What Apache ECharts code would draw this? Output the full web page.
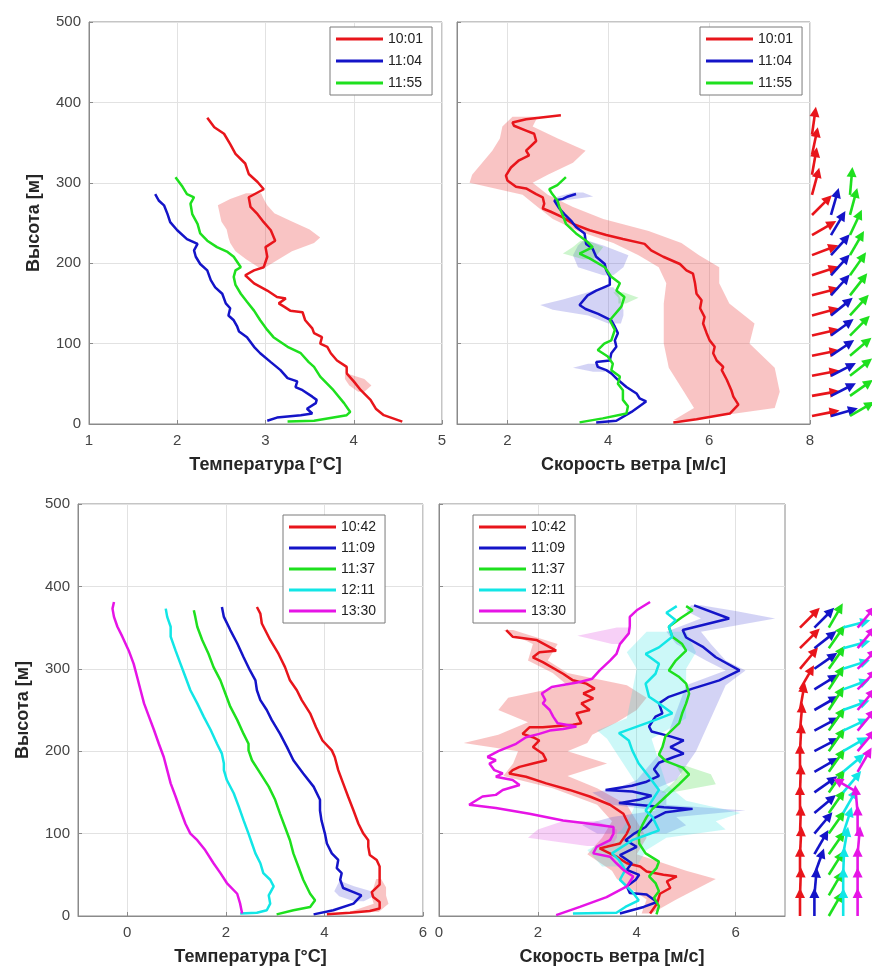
<!DOCTYPE html>
<html>
<head>
<meta charset="utf-8">
<script src="https://cdn.jsdelivr.net/npm/echarts@6/dist/echarts.min.js"></script>
<style>
  html, body { margin: 0; padding: 0; background: #ffffff; }
  #chart { width: 872px; height: 978px; }
</style>
</head>
<body>
<div id="chart"></div>
<script>
// ---------- Upper pair of panels: soundings 10:01, 11:04, 11:55 ----------
const timesA = ['10:01', '11:04', '11:55'];

// temperature profiles, [°C, height m]
const tA_1001 = [[4.55,3],[4.34,11],[4.25,19],[4.19,30],[4.08,42],[4.00,53],[3.92,63],[3.92,71],[3.81,79],[3.74,88],[3.70,96],[3.62,100],[3.64,108],[3.55,113],[3.53,119],[3.45,129],[3.42,139],[3.28,141],[3.21,146],[3.15,150],[3.23,156],[3.13,158],[3.02,166],[2.87,175],[2.77,185],[2.87,191],[2.98,195],[3.02,208],[3.00,220],[3.11,228],[3.06,241],[2.98,251],[2.91,261],[2.83,270],[2.81,282],[2.98,292],[2.91,301],[2.81,311],[2.77,324],[2.66,336],[2.60,348],[2.53,361],[2.42,369],[2.34,381]];
const tA_1104 = [[3.02,4],[3.13,8],[3.40,11],[3.53,13],[3.47,19],[3.57,26],[3.58,30],[3.53,34],[3.42,42],[3.34,46],[3.36,53],[3.25,57],[3.17,67],[3.06,77],[2.94,88],[2.87,96],[2.79,108],[2.70,115],[2.68,121],[2.64,129],[2.58,135],[2.60,144],[2.55,150],[2.51,162],[2.43,170],[2.38,179],[2.34,191],[2.26,199],[2.21,208],[2.19,216],[2.23,224],[2.11,230],[2.00,241],[1.92,251],[1.89,261],[1.85,272],[1.79,278],[1.75,286]];
const tA_1155 = [[3.25,3],[3.55,4],[3.92,11],[3.96,15],[3.89,26],[3.77,42],[3.62,59],[3.55,71],[3.49,77],[3.40,88],[3.25,96],[3.09,108],[3.02,117],[2.94,129],[2.87,141],[2.79,152],[2.72,162],[2.66,173],[2.64,183],[2.66,191],[2.72,195],[2.64,208],[2.57,214],[2.45,220],[2.34,228],[2.26,237],[2.23,249],[2.17,261],[2.15,274],[2.19,282],[2.11,286],[2.06,295],[1.98,307]];

// temperature spread, [height m, low °C, high °C]
const tA_1001_spread = [[195,2.92,3.00],[205,2.78,3.15],[215,2.66,3.30],[225,2.60,3.55],[232,2.58,3.62],[242,2.56,3.50],[252,2.50,3.30],[262,2.48,3.10],[272,2.46,3.02],[280,2.60,2.98],[287,2.78,2.95]];
const tA_1001_spreadLow = [[40,4.05,4.12],[48,3.95,4.20],[56,3.90,4.12],[62,3.90,3.95]];

// wind speed profiles, [m/s, height m]
const wA_1001 = [[5.29,2],[5.75,6],[6.41,13],[6.58,24],[6.48,34],[6.44,42],[6.35,55],[6.25,67],[6.28,71],[6.15,79],[6.08,88],[6.11,96],[6.01,104],[5.95,113],[5.88,125],[5.91,133],[5.82,144],[5.85,154],[5.75,162],[5.72,175],[5.68,187],[5.55,191],[5.42,199],[5.09,208],[4.85,216],[4.72,224],[4.29,230],[3.96,235],[3.63,241],[3.30,249],[3.10,257],[2.86,264],[2.70,268],[2.73,274],[2.70,282],[2.57,286],[2.37,293],[2.17,295],[2.00,303],[1.97,309],[2.07,319],[2.23,328],[2.43,334],[2.37,340],[2.57,352],[2.53,361],[2.37,365],[2.13,371],[2.10,375],[2.37,379],[3.06,384]];
const wA_1104 = [[3.76,2],[4.16,4],[4.46,15],[4.75,28],[4.62,32],[4.56,38],[4.36,46],[4.19,55],[4.06,63],[3.96,67],[3.79,71],[3.76,77],[4.03,79],[4.06,88],[4.16,96],[4.13,104],[4.19,113],[4.13,121],[4.06,129],[3.80,137],[3.55,143],[3.43,148],[3.59,160],[3.76,166],[4.03,173],[4.03,183],[3.96,191],[3.93,199],[3.76,208],[3.69,218],[3.56,224],[3.53,237],[3.36,245],[3.26,253],[3.13,261],[3.03,268],[2.93,278],[3.10,280],[3.20,283],[3.36,286]];
const wA_1155 = [[3.43,2],[3.89,7],[4.36,13],[4.39,22],[4.29,30],[4.29,42],[4.19,50],[4.23,59],[4.06,67],[4.09,75],[3.99,84],[3.79,92],[3.92,100],[4.06,104],[4.13,117],[4.03,129],[4.26,146],[4.32,158],[4.16,166],[4.23,175],[4.06,183],[3.93,195],[3.63,206],[3.43,212],[3.69,220],[3.56,228],[3.36,237],[3.16,249],[3.10,259],[3.03,270],[2.99,278],[2.89,286],[2.83,292],[2.99,297],[3.16,307]];

// wind speed spread, [height m, low m/s, high m/s]
const wA_1001_spread = [[5,5.30,5.60],[20,5.70,7.30],[40,5.50,7.40],[70,5.20,7.30],[100,5.10,6.80],[125,5.10,6.90],[150,5.10,6.40],[175,5.15,6.20],[195,5.00,6.20],[210,4.60,5.80],[225,4.10,5.45],[240,3.40,4.80],[255,2.90,3.90],[270,2.60,3.30],[285,2.30,2.80],[300,1.25,2.50],[310,1.30,2.80],[325,1.50,3.30],[340,1.70,3.55],[355,1.85,3.00],[370,1.90,2.50],[382,2.10,2.60]];
const wA_1104_spread1 = [[125,4.00,4.25],[135,3.60,4.30],[142,2.90,4.30],[148,2.65,4.25],[155,3.10,4.25],[162,3.50,4.20],[170,3.90,4.10]];
const wA_1104_spread2 = [[185,3.90,4.10],[195,3.40,4.30],[210,3.30,4.40],[222,3.40,3.90],[228,3.50,3.60]];
const wA_1104_spread3 = [[65,3.70,3.95],[70,3.30,3.85],[75,3.60,3.80]];
const wA_1104_spread4 = [[278,2.90,3.10],[283,3.00,3.70],[288,3.30,3.50]];
const wA_1155_spread1 = [[205,3.50,3.70],[212,3.10,3.80],[220,3.30,3.90],[228,3.45,3.60]];
const wA_1155_spread2 = [[150,4.20,4.35],[157,4.20,4.60],[164,4.10,4.30]];

// wind direction arrows (bearing the arrow points to, degrees clockwise from up)
const arrowA_h = [10,35,60,85,110,135,160,185,210,235,260,285,310,335,360];
const arrowA_1001 = [79,80,79,79,77,75,75,72,69,60,45,15,10,12,8];
const arrowA_1104 = [74,63,63,56,54,51,42,42,42,31,16];
const arrowA_1155 = [60,55,52,50,45,42,38,35,30,25,15,5];

// ---------- Lower pair of panels: soundings 10:42 ... 13:30 ----------
const timesB = ['10:42', '11:09', '11:37', '12:11', '13:30'];

const tB_1042 = [[4.05,2],[4.52,4],[4.92,6],[5.12,9],[5.12,17],[4.99,23],[4.96,29],[5.12,38],[5.12,48],[5.12,60],[5.06,68],[4.92,74],[4.89,84],[4.89,92],[4.79,100],[4.69,112],[4.59,128],[4.48,145],[4.38,161],[4.28,177],[4.21,193],[4.15,201],[3.96,213],[3.83,229],[3.71,246],[3.54,262],[3.44,274],[3.30,286],[3.20,302],[3.07,318],[2.90,335],[2.73,355],[2.70,367],[2.63,375]];
const tB_1109 = [[3.78,2],[4.18,7],[4.59,15],[4.75,25],[4.59,29],[4.38,34],[4.32,44],[4.35,52],[4.25,58],[4.28,68],[4.15,76],[4.05,88],[4.01,100],[3.94,116],[3.91,128],[3.91,141],[3.78,157],[3.57,173],[3.37,189],[3.24,205],[3.10,221],[2.93,238],[2.83,250],[2.70,262],[2.63,274],[2.60,286],[2.49,298],[2.36,314],[2.23,331],[2.09,347],[1.96,363],[1.92,375]];
const tB_1137 = [[3.03,2],[3.37,7],[3.71,11],[3.81,19],[3.71,27],[3.57,44],[3.47,60],[3.37,76],[3.30,92],[3.20,108],[3.10,124],[3.00,141],[2.87,157],[2.70,173],[2.53,189],[2.46,201],[2.46,209],[2.36,221],[2.23,238],[2.09,254],[1.99,270],[1.89,286],[1.75,302],[1.65,318],[1.52,335],[1.42,351],[1.38,363],[1.35,371]];
const tB_1211 = [[2.29,3],[2.63,4],[2.83,7],[2.90,15],[2.87,25],[2.97,36],[2.90,44],[2.76,52],[2.70,64],[2.60,76],[2.53,88],[2.46,100],[2.36,116],[2.26,133],[2.16,149],[2.02,165],[1.96,177],[1.96,185],[1.92,197],[1.82,209],[1.69,226],[1.55,242],[1.42,258],[1.28,274],[1.18,290],[1.08,306],[0.98,322],[0.88,339],[0.88,351],[0.81,363],[0.78,373]];
const tB_1330 = [[2.33,3],[2.29,15],[2.23,27],[2.02,40],[1.89,52],[1.75,64],[1.58,80],[1.42,92],[1.28,100],[1.18,112],[1.08,128],[0.98,145],[0.88,161],[0.81,177],[0.74,193],[0.64,209],[0.54,226],[0.44,242],[0.34,258],[0.27,274],[0.20,290],[0.13,306],[0.03,322],[-0.10,339],[-0.20,351],[-0.27,363],[-0.30,373],[-0.27,381]];

const tB_1042_spread = [[5,4.50,5.10],[15,5.00,5.30],[25,4.95,5.25],[35,5.00,5.25],[45,5.05,5.15]];
const tB_1109_spread = [[18,4.60,4.80],[24,4.30,5.00],[30,4.20,4.95],[36,4.25,4.60],[42,4.30,4.35]];

const wB_1042 = [[4.27,3],[4.41,15],[4.47,27],[4.68,34],[4.61,42],[4.81,48],[4.54,50],[4.20,54],[4.07,60],[3.80,64],[3.59,72],[3.25,82],[3.39,84],[3.66,88],[3.80,100],[3.86,108],[3.73,124],[3.46,135],[3.05,145],[2.64,153],[2.17,161],[1.76,169],[1.42,173],[1.49,177],[1.63,181],[1.90,185],[2.17,189],[2.10,197],[1.90,205],[2.03,213],[1.90,217],[1.69,221],[1.83,229],[2.10,229],[2.71,232],[2.88,234],[2.78,246],[3.05,250],[2.88,258],[3.12,264],[2.92,270],[3.15,276],[2.98,282],[2.71,286],[2.51,294],[2.10,308],[1.90,314],[2.03,320],[2.37,322],[1.97,335],[1.49,339],[1.36,347]];
const wB_1109 = [[3.66,3],[4.14,11],[4.41,17],[4.20,26],[3.86,28],[3.80,36],[3.98,44],[4.05,50],[3.80,56],[3.90,64],[3.66,74],[4.00,84],[3.77,92],[3.95,100],[4.18,108],[4.32,118],[4.59,126],[5.13,130],[4.55,132],[3.64,137],[4.04,141],[4.30,146],[3.91,151],[3.37,153],[3.90,158],[4.20,163],[4.45,170],[4.35,178],[4.45,186],[4.75,193],[4.95,197],[4.68,205],[4.95,213],[4.68,218],[4.30,224],[4.25,230],[4.38,242],[4.52,246],[4.45,258],[4.65,266],[5.13,276],[5.67,286],[6.08,298],[5.60,314],[5.33,327],[5.00,338],[4.93,347],[5.87,361],[5.16,377]];
const wB_1137 = [[4.40,2],[4.45,12],[4.35,22],[4.45,30],[4.38,40],[4.25,48],[4.40,58],[4.45,66],[4.18,76],[4.05,88],[4.04,100],[4.11,110],[4.20,120],[4.32,130],[4.59,145],[4.86,160],[5.06,172],[4.93,180],[4.59,188],[4.45,196],[4.52,205],[4.58,218],[4.86,234],[4.92,246],[5.00,258],[5.06,270],[5.00,282],[4.86,290],[4.65,298],[4.79,310],[5.00,322],[4.92,330],[4.72,339],[4.65,351],[4.90,362],[5.13,371],[5.00,376]];
const wB_1211 = [[2.71,3],[3.59,4],[3.77,11],[4.04,19],[3.90,30],[3.66,44],[3.77,56],[3.64,68],[3.50,76],[3.91,92],[4.18,98],[4.45,104],[4.32,120],[4.18,128],[4.32,141],[4.45,153],[4.25,169],[4.04,185],[3.91,201],[3.84,213],[3.64,222],[4.38,238],[4.72,246],[4.45,258],[4.25,266],[4.18,282],[4.38,294],[4.45,306],[4.18,318],[4.45,326],[4.72,339],[4.65,351],[4.79,359],[4.60,368],[4.81,376]];
const wB_1330 = [[2.37,1],[2.85,11],[3.39,23],[3.80,36],[3.93,48],[3.73,56],[3.59,64],[3.46,72],[3.12,76],[3.19,84],[3.46,92],[3.53,100],[3.53,108],[3.05,112],[2.51,116],[1.83,124],[1.15,131],[0.61,135],[0.88,145],[1.15,147],[1.29,153],[1.63,159],[1.49,165],[1.15,169],[1.29,173],[1.12,177],[1.02,185],[1.15,189],[0.98,193],[1.20,200],[1.56,209],[1.76,217],[2.03,221],[2.24,225],[2.51,227],[2.78,230],[2.40,234],[2.31,242],[2.24,250],[2.10,258],[2.15,262],[2.08,270],[2.28,278],[2.85,284],[3.10,288],[3.25,298],[3.46,310],[3.59,318],[3.66,330],[3.84,343],[3.86,352],[3.86,363],[4.00,371],[4.27,381]];

const wB_1042_spread = [[3,4.10,4.30],[20,4.20,4.80],[45,3.60,5.60],[55,3.50,5.00],[75,3.00,4.00],[95,3.30,4.20],[115,3.50,4.00],[135,3.20,3.80],[155,2.30,3.20],[170,1.30,2.60],[185,1.50,3.40],[200,1.60,2.60],[210,0.50,3.00],[220,1.20,3.10],[235,1.80,3.60],[250,1.20,4.00],[265,1.40,4.20],[280,2.60,3.80],[295,2.30,2.60],[310,1.80,2.20],[330,1.90,2.40],[347,1.30,1.50]];
const wB_1109_spread = [[100,3.20,4.60],[110,2.90,5.00],[120,3.50,4.80],[128,4.40,6.20],[135,3.50,4.60],[150,3.10,4.60],[155,3.60,4.40],[165,4.00,4.80],[200,4.50,5.20],[280,5.00,5.80],[298,5.80,6.20],[310,5.40,5.80],[330,4.80,5.50],[345,4.60,5.30],[361,5.30,6.80],[370,5.00,6.00],[377,5.10,5.30]];
const wB_1137_spread = [[150,4.50,4.70],[160,4.70,5.60],[172,4.90,5.50],[182,4.80,5.00]];
const wB_1211_spread = [[60,3.30,4.00],[80,3.00,4.20],[95,3.50,4.60],[105,3.70,5.80],[115,3.80,5.60],[125,3.90,6.10],[140,4.00,5.00],[160,4.00,4.60],[215,3.40,4.30],[225,3.20,4.60],[240,3.80,5.00],[300,4.00,5.00],[320,3.80,5.20],[345,4.20,5.00]];
const wB_1330_spread1 = [[85,3.00,3.50],[95,1.80,3.60],[105,2.00,3.60],[115,2.50,3.20]];
const wB_1330_spread2 = [[330,3.50,3.70],[340,2.80,3.80],[350,3.60,3.90]];

const arrowB_h = [0,25,50,75,100,125,150,175,200,225,250,275,300,325,350];
const arrowB_1042 = [0,2,0,3,2,0,2,0,3,5,10,30,40,45,45];
const arrowB_1109 = [0,5,20,30,40,50,55,60,62,62,60,58,55,52,45];
const arrowB_1137 = [30,30,32,35,35,35,35,35,35,35,33,33,35,35,30];
const arrowB_1211 = [0,0,2,10,18,30,40,50,60,65,70,70,72,75,75];
const arrowB_1330 = [0,0,0,5,0,-5,-60,30,40,40,40,45,45,40,40];

// ---------- styling ----------
const FONT = '"Liberation Sans", Arial, Helvetica, sans-serif';
const COL = { r: '#e8151b', b: '#1414c8', g: '#1ee01e', c: '#12e6e6', m: '#e614e6' };
const FILL = {
  r: 'rgba(236,72,72,0.32)', b: 'rgba(70,70,215,0.24)', g: 'rgba(60,215,60,0.26)',
  c: 'rgba(40,225,225,0.24)', m: 'rgba(220,60,220,0.24)'
};
const AXIS_GREY = '#8a8a8a';

function profile(name, data, color, gi) {
  return {
    type: 'line', name, data, xAxisIndex: gi, yAxisIndex: gi,
    symbol: 'none', showSymbol: false, z: 3,
    lineStyle: { width: 2.5, color }, itemStyle: { color }
  };
}

// shaded spread: polygon up the low edge and back down the high edge
function spread(rows, fill, gi) {
  const pts = rows.map(r => [r[1], r[0]]).concat(rows.slice().reverse().map(r => [r[2], r[0]]));
  return {
    type: 'custom', name: 'spread', xAxisIndex: gi, yAxisIndex: gi,
    data: pts, encode: { x: 0, y: 1 }, z: 1, silent: true,
    renderItem(params, api) {
      if (params.dataIndex !== 0) return null;
      return { type: 'polygon', shape: { points: pts.map(p => api.coord(p)) }, style: { fill } };
    }
  };
}

// one column of wind-direction arrows
function arrows(col, heights, dirs, color, gi) {
  const data = dirs.map((d, i) => [col, heights[i], d]);
  const L = 28, HL = 10, HW = 5;
  return {
    type: 'custom', name: 'arrows', xAxisIndex: gi, yAxisIndex: gi,
    data, encode: { x: 0, y: 1 }, z: 3, silent: true, clip: false,
    itemStyle: { color },
    renderItem(params, api) {
      const p = api.coord([api.value(0), api.value(1)]);
      const a = api.value(2) * Math.PI / 180;
      const ux = Math.sin(a), uy = -Math.cos(a);
      const tip = [p[0] + ux * L, p[1] + uy * L];
      const base = [tip[0] - ux * HL, tip[1] - uy * HL];
      return {
        type: 'group', children: [
          { type: 'line', shape: { x1: p[0], y1: p[1], x2: base[0] + ux * 2, y2: base[1] + uy * 2 },
            style: { stroke: color, lineWidth: 2.6 } },
          { type: 'polygon', shape: { points: [tip,
              [base[0] - uy * HW, base[1] + ux * HW],
              [base[0] + uy * HW, base[1] - ux * HW]] },
            style: { fill: color } }
        ]
      };
    }
  };
}

function xAxis(gi, min, max, ticks, name) {
  return {
    type: 'value', gridIndex: gi, min, max, name,
    nameLocation: 'middle', nameGap: 32,
    nameTextStyle: { fontFamily: FONT, fontSize: 18, fontWeight: 'bold', color: '#262626' },
    axisLine: { show: true, onZero: false, lineStyle: { color: AXIS_GREY } },
    axisTick: { show: true, inside: true, length: 4, customValues: ticks, lineStyle: { color: AXIS_GREY } },
    axisLabel: { customValues: ticks, fontFamily: FONT, fontSize: 15, color: '#444', margin: 9 },
    splitLine: { show: true, lineStyle: { color: '#e2e2e2' } }
  };
}

function yAxis(gi, withLabels) {
  return {
    type: 'value', gridIndex: gi, min: 0, max: 500, interval: 100,
    name: withLabels ? 'Высота [м]' : '', nameLocation: 'middle', nameGap: 46,
    nameTextStyle: { fontFamily: FONT, fontSize: 18, fontWeight: 'bold', color: '#262626' },
    axisLine: { show: true, onZero: false, lineStyle: { color: AXIS_GREY } },
    axisTick: { show: true, inside: true, length: 4, lineStyle: { color: AXIS_GREY } },
    axisLabel: { show: withLabels, fontFamily: FONT, fontSize: 15, color: '#444', margin: 8 },
    splitLine: { show: true, lineStyle: { color: '#e2e2e2' } }
  };
}

function hiddenAxis(gi, min, max) {
  return { type: 'value', gridIndex: gi, min, max, show: false, splitLine: { show: false } };
}

function legendBox(names, left, top, gap) {
  return {
    data: names, left, top, orient: 'vertical', icon: 'rect',
    itemWidth: 47, itemHeight: 3, itemGap: gap, selectedMode: false,
    padding: [4, 9, 4, 6], borderColor: '#7a7a7a', borderWidth: 1, backgroundColor: '#ffffff',
    textStyle: { fontFamily: FONT, fontSize: 14, color: '#222', lineHeight: 16 }
  };
}

const gridStyle = { show: true, borderColor: AXIS_GREY, borderWidth: 1, backgroundColor: 'transparent', containLabel: false };

const option = {
  animation: false,
  backgroundColor: '#ffffff',
  grid: [
    Object.assign({ left: 89, top: 22, width: 353, height: 402 }, gridStyle),
    Object.assign({ left: 457, top: 22, width: 353, height: 402 }, gridStyle),
    Object.assign({ left: 78, top: 504, width: 345, height: 412 }, gridStyle),
    Object.assign({ left: 439, top: 504, width: 346, height: 412 }, gridStyle),
    { left: 812, top: 22, width: 57, height: 402, show: false },
    { left: 800, top: 504, width: 84, height: 412, show: false }
  ],
  xAxis: [
    xAxis(0, 1, 5, [1, 2, 3, 4, 5], 'Температура [°C]'),
    xAxis(1, 1, 8, [2, 4, 6, 8], 'Скорость ветра [м/с]'),
    xAxis(2, -1, 6, [0, 2, 4, 6], 'Температура [°C]'),
    xAxis(3, 0, 7, [0, 2, 4, 6], 'Скорость ветра [м/с]'),
    hiddenAxis(4, 0, 3),
    hiddenAxis(5, 0, 5)
  ],
  yAxis: [
    yAxis(0, true), yAxis(1, false), yAxis(2, true), yAxis(3, false),
    hiddenAxis(4, 0, 500), hiddenAxis(5, 0, 500)
  ],
  legend: [
    legendBox(timesA, 330, 27, 6),
    legendBox(timesA, 700, 27, 6),
    legendBox(timesB, 283, 515, 5),
    legendBox(timesB, 473, 515, 5)
  ],
  series: [
    // upper temperature
    spread(tA_1001_spread, FILL.r, 0),
    spread(tA_1001_spreadLow, FILL.r, 0),
    profile('10:01', tA_1001, COL.r, 0),
    profile('11:04', tA_1104, COL.b, 0),
    profile('11:55', tA_1155, COL.g, 0),
    // upper wind speed
    spread(wA_1001_spread, FILL.r, 1),
    spread(wA_1104_spread1, FILL.b, 1),
    spread(wA_1104_spread2, FILL.b, 1),
    spread(wA_1104_spread3, FILL.b, 1),
    spread(wA_1104_spread4, FILL.b, 1),
    spread(wA_1155_spread1, FILL.g, 1),
    spread(wA_1155_spread2, FILL.g, 1),
    profile('10:01', wA_1001, COL.r, 1),
    profile('11:04', wA_1104, COL.b, 1),
    profile('11:55', wA_1155, COL.g, 1),
    // upper wind direction
    arrows(0, arrowA_h, arrowA_1001, COL.r, 4),
    arrows(1, arrowA_h, arrowA_1104, COL.b, 4),
    arrows(2, arrowA_h, arrowA_1155, COL.g, 4),
    // lower temperature
    spread(tB_1042_spread, FILL.r, 2),
    spread(tB_1109_spread, FILL.b, 2),
    profile('10:42', tB_1042, COL.r, 2),
    profile('11:09', tB_1109, COL.b, 2),
    profile('11:37', tB_1137, COL.g, 2),
    profile('12:11', tB_1211, COL.c, 2),
    profile('13:30', tB_1330, COL.m, 2),
    // lower wind speed
    spread(wB_1042_spread, FILL.r, 3),
    spread(wB_1109_spread, FILL.b, 3),
    spread(wB_1137_spread, FILL.g, 3),
    spread(wB_1211_spread, FILL.c, 3),
    spread(wB_1330_spread1, FILL.m, 3),
    spread(wB_1330_spread2, FILL.m, 3),
    profile('10:42', wB_1042, COL.r, 3),
    profile('11:09', wB_1109, COL.b, 3),
    profile('11:37', wB_1137, COL.g, 3),
    profile('12:11', wB_1211, COL.c, 3),
    profile('13:30', wB_1330, COL.m, 3),
    // lower wind direction
    arrows(0, arrowB_h, arrowB_1042, COL.r, 5),
    arrows(1, arrowB_h, arrowB_1109, COL.b, 5),
    arrows(2, arrowB_h, arrowB_1137, COL.g, 5),
    arrows(3, arrowB_h, arrowB_1211, COL.c, 5),
    arrows(4, arrowB_h, arrowB_1330, COL.m, 5)
  ]
};

const chart = echarts.init(document.getElementById('chart'), null, { renderer: 'canvas' });
chart.setOption(option);
</script>
</body>
</html>
